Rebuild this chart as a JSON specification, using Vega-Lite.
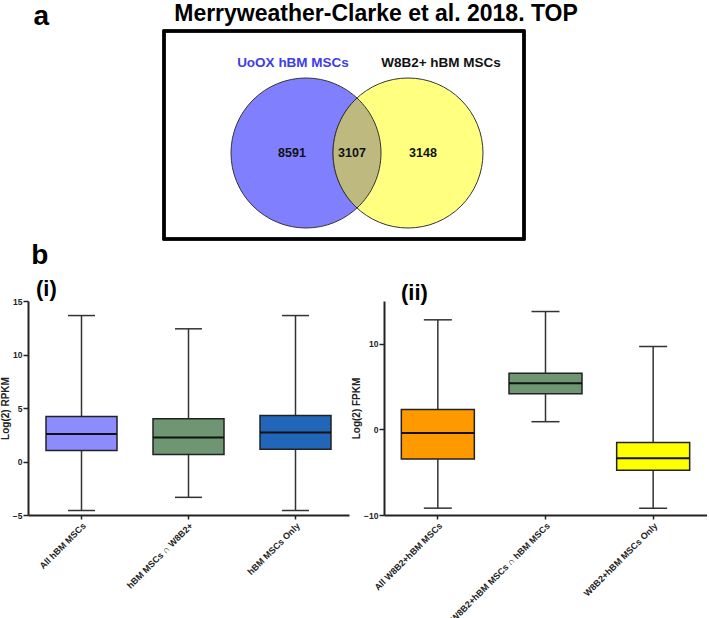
{
  "$schema": "https://vega.github.io/schema/vega-lite/v6.json",
  "padding": {"top": 2, "left": 0, "right": 0, "bottom": 0},
  "background": "white",
  "config": {
    "font": "Liberation Sans",
    "view": {"stroke": null},
    "axis": {"grid": false}
  },
  "spacing": 1,
  "resolve": {"scale": {"fill": "independent", "color": "independent", "x": "independent", "y": "independent"}},
  "vconcat": [
    {
      "width": 496,
      "height": 208,
      "data": {"values": [
        {"kind": "circle", "name": "UoOX hBM MSCs", "x": 142, "y": 86},
        {"kind": "circle", "name": "W8B2+ hBM MSCs", "x": 244, "y": 86},
        {"kind": "overlap", "name": "UoOX ∩ W8B2+", "x": 193, "y": 86},
        {"kind": "label", "name": "UoOX hBM MSCs", "x": 129, "y": 176},
        {"kind": "label", "name": "W8B2+ hBM MSCs", "x": 277, "y": 176},
        {"kind": "count", "name": "UoOX hBM MSCs only", "count": 8591, "x": 128, "y": 86},
        {"kind": "count", "name": "UoOX ∩ W8B2+", "count": 3107, "x": 188, "y": 86},
        {"kind": "count", "name": "W8B2+ hBM MSCs only", "count": 3148, "x": 259, "y": 86}
      ]},
      "encoding": {
        "x": {"field": "x", "type": "quantitative", "scale": {"domain": [-136, 360], "nice": false, "zero": false},
          "axis": {"orient": "top", "title": "Merryweather-Clarke et al. 2018. TOP", "titleX": 347.5, "titleY": -11, "titleAlign": "center", "titleBaseline": "alphabetic", "titleFontSize": 23, "titleFontWeight": "bold", "titleColor": "#000000", "labels": false, "ticks": false, "domain": false, "grid": false}},
        "y": {"field": "y", "type": "quantitative", "scale": {"domain": [0, 208], "nice": false, "zero": false},
          "axis": {"title": "a", "titleAngle": 0, "titleX": 5, "titleY": -7, "titleAlign": "left", "titleBaseline": "alphabetic", "titleFontSize": 28, "titleFontWeight": "bold", "titleColor": "#000000", "labels": false, "ticks": false, "domain": false, "grid": false}}
      },
      "layer": [
        {
          "mark": {"type": "rect", "fill": null, "stroke": "#000000", "strokeWidth": 2.5},
          "encoding": {"x": {"datum": 0}, "x2": {"datum": 360}, "y": {"datum": 0}, "y2": {"datum": 208}}
        },
        {
          "transform": [{"filter": "datum.kind === 'circle'"}],
          "mark": {"type": "point", "shape": "circle", "size": 22500, "filled": true, "opacity": 1, "stroke": "#333333", "strokeWidth": 1},
          "encoding": {
            "fill": {"field": "name", "type": "nominal", "scale": {"domain": ["UoOX hBM MSCs", "W8B2+ hBM MSCs"], "range": ["#8080ff", "#ffff80"]}, "legend": null}
          }
        },
        {
          "transform": [{"filter": "datum.kind === 'overlap'"}],
          "mark": {"type": "point", "shape": "M0,-0.7333A1,1,0,0,0,0,0.7333A1,1,0,0,0,0,-0.7333Z", "size": 22500, "filled": true, "opacity": 1, "fill": "#bdb97f", "stroke": "#333333", "strokeWidth": 1}
        },
        {
          "transform": [{"filter": "datum.kind === 'label'"}],
          "mark": {"type": "text", "fontSize": 13.5, "fontWeight": "bold", "align": "center", "baseline": "middle"},
          "encoding": {
            "text": {"field": "name"},
            "color": {"field": "name", "type": "nominal", "scale": {"domain": ["UoOX hBM MSCs", "W8B2+ hBM MSCs"], "range": ["#3d3de8", "#111111"]}, "legend": null}
          }
        },
        {
          "transform": [{"filter": "datum.kind === 'count'"}],
          "mark": {"type": "text", "fontSize": 12.5, "fontWeight": "bold", "align": "center", "baseline": "middle", "color": "#111111"},
          "encoding": {"text": {"field": "count", "type": "quantitative", "format": "d"}}
        }
      ]
    },
    {
      "title": {"text": "b", "anchor": "start", "fontSize": 28, "fontWeight": "bold", "dx": 31, "offset": 8, "color": "#000000"},
      "spacing": 2,
      "resolve": {"scale": {"fill": "independent", "x": "independent", "y": "independent"}},
      "hconcat": [
        {
          "title": {"text": "(i)", "anchor": "start", "frame": "group", "dx": 8, "fontSize": 22, "fontWeight": "bold", "offset": -4, "color": "#000000"},
          "width": 321,
          "height": 214,
          "data": {"values": [
            {"group": "All hBM MSCs", "lower": -4.58, "q1": 1.03, "median": 2.58, "q3": 4.2, "upper": 13.64},
            {"group": "hBM MSCs ∩ W8B2+", "lower": -3.35, "q1": 0.65, "median": 2.25, "q3": 4.0, "upper": 12.4},
            {"group": "hBM MSCs Only", "lower": -4.58, "q1": 1.15, "median": 2.7, "q3": 4.3, "upper": 13.64}
          ]},
          "encoding": {
            "x": {"field": "group", "type": "nominal", "sort": null, "scale": {"paddingInner": 0, "paddingOuter": 0},
              "axis": {"title": null, "labelAngle": -45, "labelFontSize": 9, "labelFontWeight": "bold", "labelColor": "#222222", "labelPadding": 2, "labelLimit": 300, "tickSize": 4, "tickColor": "#222222", "tickWidth": 1.5, "domainColor": "#222222", "domainWidth": 2}}
          },
          "layer": [
            {
              "mark": {"type": "rule", "stroke": "#333333", "strokeWidth": 1.5},
              "encoding": {
                "y": {"field": "lower", "type": "quantitative", "scale": {"domain": [-5, 15], "nice": false, "zero": false},
                  "axis": {"values": [-5, 0, 5, 10, 15], "title": "Log(2)  RPKM", "titleFontSize": 10, "titleFontWeight": "bold", "titleColor": "#222222", "titlePadding": 2, "labelFontSize": 8.5, "labelFontWeight": "bold", "labelColor": "#222222", "labelPadding": 1, "tickSize": 5, "tickColor": "#222222", "tickWidth": 1.5, "domainColor": "#222222", "domainWidth": 2, "grid": false}},
                "y2": {"field": "upper"}
              }
            },
            {"mark": {"type": "tick", "color": "#333333", "size": 27, "thickness": 1.5, "opacity": 1}, "encoding": {"y": {"field": "lower", "type": "quantitative"}}},
            {"mark": {"type": "tick", "color": "#333333", "size": 27, "thickness": 1.5, "opacity": 1}, "encoding": {"y": {"field": "upper", "type": "quantitative"}}},
            {
              "mark": {"type": "bar", "width": 71, "stroke": "#222222", "strokeWidth": 1.5, "opacity": 1},
              "encoding": {
                "y": {"field": "q1", "type": "quantitative"},
                "y2": {"field": "q3"},
                "fill": {"field": "group", "type": "nominal", "scale": {"domain": ["All hBM MSCs", "hBM MSCs ∩ W8B2+", "hBM MSCs Only"], "range": ["#8c8cff", "#6e9673", "#2166b8"]}, "legend": null}
              }
            },
            {"mark": {"type": "tick", "color": "#111111", "size": 71, "thickness": 2, "opacity": 1}, "encoding": {"y": {"field": "median", "type": "quantitative"}}}
          ]
        },
        {
          "title": {"text": "(ii)", "anchor": "start", "frame": "group", "dx": 17, "fontSize": 22, "fontWeight": "bold", "offset": -4, "color": "#000000"},
          "width": 323,
          "height": 214,
          "data": {"values": [
            {"group": "All W8B2+hBM MSCs", "lower": -9.2, "q1": -3.46, "median": -0.43, "q3": 2.33, "upper": 12.8},
            {"group": "W8B2+hBM MSCs ∩ hBM MSCs", "lower": 0.9, "q1": 4.16, "median": 5.4, "q3": 6.57, "upper": 13.77},
            {"group": "W8B2+hBM MSCs Only", "lower": -9.2, "q1": -4.78, "median": -3.38, "q3": -1.52, "upper": 9.68}
          ]},
          "encoding": {
            "x": {"field": "group", "type": "nominal", "sort": null, "scale": {"paddingInner": 0, "paddingOuter": -0.041, "align": 0},
              "axis": {"title": null, "labelAngle": -45, "labelFontSize": 9, "labelFontWeight": "bold", "labelColor": "#222222", "labelPadding": 2, "labelLimit": 300, "tickSize": 4, "tickColor": "#222222", "tickWidth": 1.5, "domainColor": "#222222", "domainWidth": 2}}
          },
          "layer": [
            {
              "mark": {"type": "rule", "stroke": "#333333", "strokeWidth": 1.5},
              "encoding": {
                "y": {"field": "lower", "type": "quantitative", "scale": {"domain": [-10, 15], "nice": false, "zero": false},
                  "axis": {"values": [-10, 0, 10], "title": "Log(2)  FPKM", "titleFontSize": 10, "titleFontWeight": "bold", "titleColor": "#222222", "titlePadding": 2, "labelFontSize": 8.5, "labelFontWeight": "bold", "labelColor": "#222222", "labelPadding": 1, "tickSize": 5, "tickColor": "#222222", "tickWidth": 1.5, "domainColor": "#222222", "domainWidth": 2, "grid": false}},
                "y2": {"field": "upper"}
              }
            },
            {"mark": {"type": "tick", "color": "#333333", "size": 28, "thickness": 1.5, "opacity": 1}, "encoding": {"y": {"field": "lower", "type": "quantitative"}}},
            {"mark": {"type": "tick", "color": "#333333", "size": 28, "thickness": 1.5, "opacity": 1}, "encoding": {"y": {"field": "upper", "type": "quantitative"}}},
            {
              "mark": {"type": "bar", "width": 73, "stroke": "#222222", "strokeWidth": 1.5, "opacity": 1},
              "encoding": {
                "y": {"field": "q1", "type": "quantitative"},
                "y2": {"field": "q3"},
                "fill": {"field": "group", "type": "nominal", "scale": {"domain": ["All W8B2+hBM MSCs", "W8B2+hBM MSCs ∩ hBM MSCs", "W8B2+hBM MSCs Only"], "range": ["#ff9900", "#6e9673", "#ffff00"]}, "legend": null}
              }
            },
            {"mark": {"type": "tick", "color": "#111111", "size": 73, "thickness": 2, "opacity": 1}, "encoding": {"y": {"field": "median", "type": "quantitative"}}}
          ]
        }
      ]
    }
  ]
}
